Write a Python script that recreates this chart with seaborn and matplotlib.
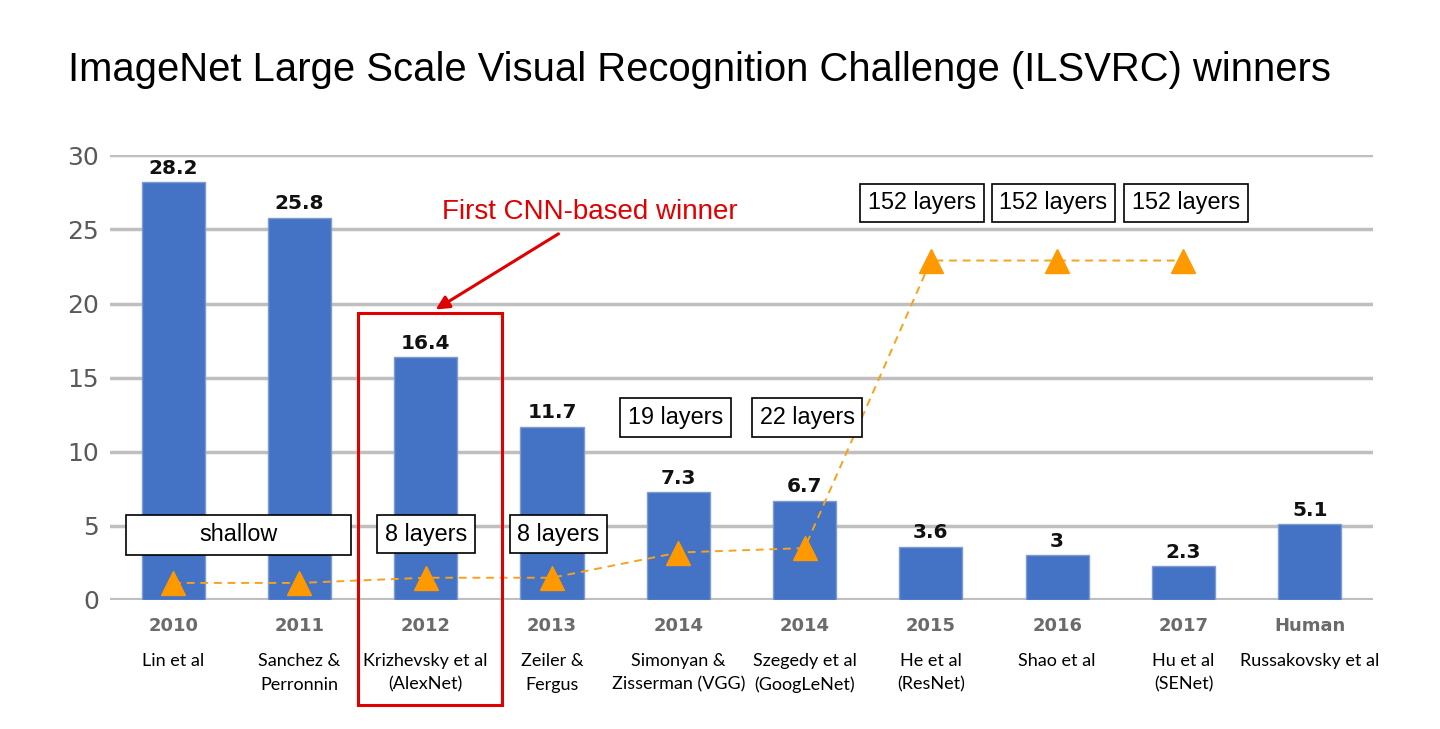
import matplotlib
matplotlib.use("Agg")
import matplotlib.pyplot as plt
import seaborn as sns
import numpy as np
import pandas as pd
from matplotlib.patches import Rectangle

## data ##
years = ["2010", "2011", "2012", "2013", "2014", "2014", "2015", "2016", "2017", "Human"]
authors = ["Lin et al", "Sanchez &\nPerronnin", "Krizhevsky et al\n(AlexNet)", "Zeiler &\nFergus",
           "Simonyan &\nZisserman (VGG)", "Szegedy et al\n(GoogLeNet)", "He et al\n(ResNet)",
           "Shao et al", "Hu et al\n(SENet)", "Russakovsky et al"]
top5_error = [28.2, 25.8, 16.4, 11.7, 7.3, 6.7, 3.6, 3, 2.3, 5.1]
# depth markers (triangles), no marker for Human
depth_marker = [1.15, 1.15, 1.5, 1.5, 3.2, 3.5, 22.9, 22.9, 22.9]
depth_labels = ["8 layers", "8 layers", "19 layers", "22 layers", "152 layers", "152 layers", "152 layers"]
depth_label_x = [2, 3.05, 3.98, 5.02, 5.93, 6.97, 8.02]
depth_label_y = [4.45, 4.45, 12.3, 12.3, 26.8, 26.8, 26.8]

df = pd.DataFrame({"pos": np.arange(len(years)), "err": top5_error})

sns.set_theme(style="white")
fig = plt.figure(figsize=(14.4, 7.29), dpi=100)
ax = fig.add_axes([0.0764, 0.177, 0.877, 0.610])

sns.barplot(data=df, x="pos", y="err", color="#4472C4", saturation=1, width=0.5, ax=ax, zorder=2,
            edgecolor="#7F9BD0", linewidth=1)
ax.bar_label(ax.containers[0], labels=[f"{v:g}" for v in top5_error], padding=3,
             fontsize=14.5, fontweight="bold", color="#111111", family="DejaVu Sans")

# depth line with triangles
ax.plot(np.arange(len(depth_marker)), depth_marker, ls=(0, (4, 3)), lw=1.4, color="#F7A21B",
        marker="^", markersize=17, markerfacecolor="#FF9900", markeredgecolor="#FF9900", zorder=4)

ax.set_xlim(-0.5, 9.5)
ax.set_ylim(0, 30)
ax.set_yticks(range(0, 31, 5))
ax.yaxis.grid(True, color="#BFBFBF", lw=2.5, zorder=0)
ax.set_axisbelow(True)
for s in ax.spines.values():
    s.set_visible(False)
ax.axhline(0, color="#BFBFBF", lw=3, zorder=1)
ax.set_xlabel("")
ax.set_ylabel("")
ax.set_xticks(range(len(years)))
ax.set_xticklabels(years, fontsize=13, fontweight="bold", color="#6b6b6b", family="DejaVu Sans")
ax.tick_params(axis="x", length=0, pad=12)
ax.tick_params(axis="y", length=0, pad=8, labelsize=18, labelcolor="#595959")

# author names under years
for i, a in enumerate(authors):
    ax.annotate(a, xy=(i, 0), xycoords=("data", "axes fraction"), xytext=(0, -38),
                textcoords="offset points", ha="center", va="top", fontsize=13,
                family="Lato", color="black", linespacing=1.6)

# layer boxes
box = dict(boxstyle="square,pad=0.33", fc="white", ec="black", lw=1.2)
ax.add_patch(Rectangle((-0.37, 3.03), 1.78, 2.7, fc="white", ec="black", lw=1.2, zorder=5))
ax.text(0.52, 4.4, "shallow", ha="center", va="center", fontsize=16.8,
        family="Liberation Sans", color="black", zorder=6)
for x, y, t in zip(depth_label_x, depth_label_y, depth_labels):
    ax.text(x, y, t, ha="center", va="center", fontsize=16.8, family="Liberation Sans",
            color="black", bbox=box, zorder=5)

# highlight AlexNet
ax.add_patch(Rectangle((1.46, -7.1), 1.14, 26.45, fill=False, ec="#E00000", lw=2.2,
                       clip_on=False, zorder=6))
ax.annotate("", xy=(2.06, 19.5), xytext=(3.07, 24.8),
            arrowprops=dict(arrowstyle="-|>", color="#E00000", lw=2.2, mutation_scale=20), zorder=6)
ax.text(3.3, 26.2, "First CNN-based winner", ha="center", va="center", fontsize=20,
        color="#E00000", family="Liberation Sans")

fig.text(0.047, 0.904, "ImageNet Large Scale Visual Recognition Challenge (ILSVRC) winners",
         ha="left", va="center", fontsize=28.8, family="Liberation Sans", color="black")

fig.savefig("out.png", dpi=100, facecolor="white")
